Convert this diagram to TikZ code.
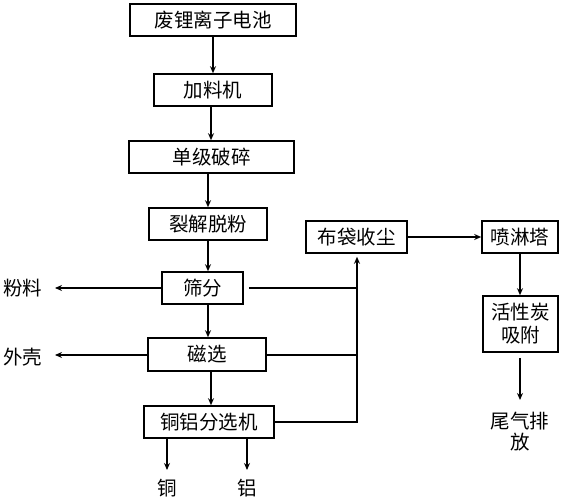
\documentclass[tikz,border=0pt]{standalone}
\usepackage{fontspec}
\newfontfamily\cjk{Noto Sans CJK SC}
\usetikzlibrary{arrows.meta,calc}
\begin{document}
\begin{tikzpicture}[x=1pt,y=-1pt,
  box/.style={draw,line width=1.6pt,minimum height=32pt,inner sep=0pt,font=\cjk\fontsize{19.5}{23}\selectfont},
  lbl/.style={inner sep=0pt,font=\cjk\fontsize{19.5}{23}\selectfont,align=center},
  arr/.style={line width=1.6pt,-{Stealth[length=7pt,width=6pt]}},
  ln/.style={line width=1.6pt}]
\useasboundingbox (0,0) rectangle (563,500);
\node[box,minimum width=166pt] (b1) at (213,20) {废锂离子电池};
\node[box,minimum width=118pt] (b2) at (213,90) {加料机};
\node[box,minimum width=165pt] (b3) at (211.5,157) {单级破碎};
\node[box,minimum width=118pt] (b4) at (208,224) {裂解脱粉};
\node[box,minimum width=81pt] (b5) at (202.5,288) {筛分};
\node[box,minimum width=118pt,minimum height=33pt] (b6) at (207,354.5) {磁选};
\node[box,minimum width=130pt] (b7) at (209,422) {铜铝分选机};
\node[box,minimum width=101pt] (b8) at (356.5,237) {布袋收尘};
\node[box,minimum width=76pt] (b9) at (520,237) {喷淋塔};
\node[box,minimum width=75pt,minimum height=56pt,align=center,font=\cjk\fontsize{19.5}{23}\selectfont] (b10) at (520.5,324) {活性炭\\吸附};
\node[lbl] (f1) at (23,288) {粉料};
\node[lbl] (f2) at (23,357) {外壳};
\node[lbl] (cu) at (167,488) {铜};
\node[lbl] (al) at (247,488) {铝};
\node[lbl,font=\cjk\fontsize{19.5}{21}\selectfont] (wq) at (520,432) {尾气排\\放};
\coordinate (f1e) at (55,288);
\coordinate (f2e) at (55,355);
\coordinate (cue) at (167,470);
\coordinate (ale) at (247,470);
\coordinate (wqe) at (520,400);
\coordinate (j) at (357,0);
\draw[arr] (b1.south -| b2) -- (b2.north);
\draw[arr] (b2.south -| 211,0) -- (b3.north -| 211,0);
\draw[arr] (b3.south -| b4) -- (b4.north);
\draw[arr] (b4.south) -- (b4.south |- b5.north);
\draw[arr] (b5.south -| b4) -- (b6.north -| b4);
\draw[arr] (b6.south -| 211,0) -- (b7.north -| 211,0);
\draw[arr] (b5.west) -- (f1e);
\draw[arr] (b6.west |- f2e) -- (f2e);
\draw[ln] ([xshift=5pt]b5.east) -- (b5.east -| j);
\draw[ln] (b6.east |- 0,355) -- (j |- 0,355);
\draw[arr,shorten >=3pt] (b7.east) -| (j |- b8.south);
\draw[arr] (b8.east) -- (b9.west);
\draw[arr] (b9.south) -- (b10.north -| b9);
\draw[arr,shorten <=5pt] (b10.south -| wqe) -- (wqe);
\draw[arr] (b7.south -| cue) -- (cue);
\draw[arr] (b7.south -| ale) -- (ale);
\end{tikzpicture}
\end{document}
